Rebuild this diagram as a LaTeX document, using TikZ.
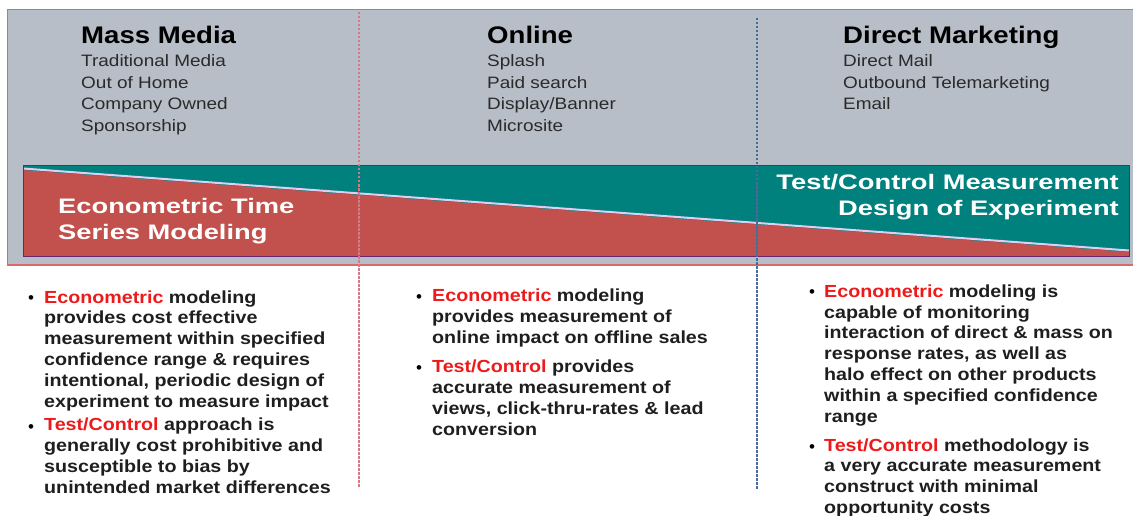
\documentclass[tikz,border=0pt]{standalone}
\usepackage{fontspec}
\setmainfont{Liberation Sans}
\newfontfamily\hdfont{Liberation Sans}[FakeStretch=1.15]
\newfontfamily\btfont{Liberation Sans}[FakeStretch=1.125]
\newfontfamily\bdfont{Liberation Sans}[FakeStretch=1.3]
\definecolor{panelgray}{HTML}{B8BEC8}
\definecolor{bandred}{HTML}{C2504C}
\definecolor{bandteal}{HTML}{00817E}
\definecolor{bandedge}{HTML}{6A2470}
\definecolor{paneledge}{HTML}{D86A6A}
\definecolor{diag}{HTML}{E4CCF0}
\definecolor{dashred}{HTML}{D47A86}
\definecolor{dashblue}{HTML}{4A6A98}
\definecolor{hot}{HTML}{EC1A1A}
\definecolor{bodytxt}{HTML}{1E1E1E}
\definecolor{itemtxt}{HTML}{2A2A2A}
\tikzset{
  heading/.style={anchor=base west, inner sep=0pt, font=\hdfont\bfseries\fontsize{24}{26}\selectfont, text=black},
  itemlist/.style={anchor=base west, inner sep=0pt, align=left, font=\hdfont\fontsize{16.5}{21.7}\selectfont, text=itemtxt},
  bandtext/.style={inner sep=0pt, font=\bdfont\bfseries\fontsize{21}{26}\selectfont, text=white},
  bullettext/.style={anchor=base west, inner sep=0pt, align=left, font=\btfont\bfseries\fontsize{17.5}{20.8}\selectfont, text=bodytxt},
  dot/.style={anchor=base, inner sep=0pt, font=\fontsize{17}{18}\selectfont, text=black},
  divider/.style={line width=1.2pt, dash pattern=on 2.5pt off 1.5pt}
}
\newcommand{\hl}[1]{\textcolor{hot}{#1}}
\begin{document}
\begin{tikzpicture}[x=1pt,y=-1pt]
\useasboundingbox (0,0) rectangle (1133,516);
% panel
\fill[panelgray] (7,10) rectangle (1133,265);
\draw[paneledge, line width=1pt] (1133,10) -- (7,10) -- (7,265);
\draw[paneledge, line width=2pt] (7,265) -- (1133,265);
% band
\fill[bandteal] (23,166) rectangle (1129,256);
\fill[bandred] (23,170) -- (1129,252) -- (1129,256) -- (23,256) -- cycle;
\draw[diag, line width=2pt] (23,168.5) -- (1129,250.5);
\draw[bandedge, line width=1pt] (23,166) rectangle (1129,256);
% dividers
\coordinate (d1t) at (359,12);
\coordinate (d1b) at (359,487);
\coordinate (d2t) at (757,18);
\coordinate (d2b) at (757,490);
\draw[divider, dashred] (d1t) -- (d1b);
\draw[divider, dashblue] (d2t) -- (d2b);
% headings (multi-line nodes are placed at the baseline of their last line)
\node[heading] (h1) at (81,44) {Mass Media};
\node[itemlist] (i1) at (81,131.6) {Traditional Media\\Out of Home\\Company Owned\\Sponsorship};
\node[heading] (h2) at (487,44) {Online};
\node[itemlist] (i2) at (487,131.6) {Splash\\Paid search\\Display/Banner\\Microsite};
\node[heading] (h3) at (843,44) {Direct Marketing};
\node[itemlist] (i3) at (843,109.9) {Direct Mail\\Outbound Telemarketing\\Email};
% band text
\node[bandtext, anchor=base west, align=left] (b1) at (58,239) {Econometric Time\\Series Modeling};
\node[bandtext, anchor=base east, align=right] (b2) at (1119,215) {Test/Control Measurement\\Design of Experiment};
% bullets column 1
\node[dot] (c1d1) at (31,303) {\textbullet};
\node[bullettext] (c1p1) at (44,407) {\hl{Econometric} modeling\\provides cost effective\\measurement within specified\\confidence range \& requires\\intentional, periodic design of\\experiment to measure impact};
\node[dot] (c1d2) at (31,432) {\textbullet};
\node[bullettext] (c1p2) at (44,493) {\hl{Test/Control} approach is\\generally cost prohibitive and\\susceptible to bias by\\unintended market differences};
% column 2
\node[dot] (c2d1) at (419,302) {\textbullet};
\node[bullettext] (c2p1) at (432,343) {\hl{Econometric} modeling\\provides measurement of\\online impact on offline sales};
\node[dot] (c2d2) at (419,373) {\textbullet};
\node[bullettext] (c2p2) at (432,435) {\hl{Test/Control} provides\\accurate measurement of\\views, click-thru-rates \& lead\\conversion};
% column 3
\node[dot] (c3d1) at (812,297) {\textbullet};
\node[bullettext] (c3p1) at (824,422) {\hl{Econometric} modeling is\\capable of monitoring\\interaction of direct \& mass on\\response rates, as well as\\halo effect on other products\\within a specified confidence\\range};
\node[dot] (c3d2) at (812,452) {\textbullet};
\node[bullettext] (c3p2) at (824,513.5) {\hl{Test/Control} methodology is\\a very accurate measurement\\construct with minimal\\opportunity costs};
\end{tikzpicture}
\end{document}
